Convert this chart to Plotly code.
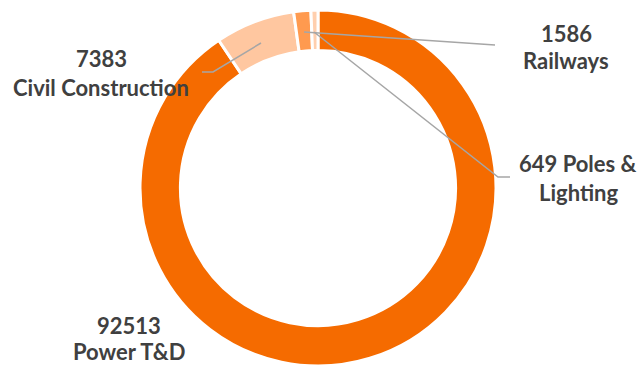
import plotly.graph_objects as go

# Data
categories = ["Power T&D", "Civil Construction", "Railways", "Poles & Lighting"]
values = [92513, 7383, 1586, 649]
colors = ["#F56B00", "#FFC7A0", "#FF9A4F", "#FFCFAE"]

W, H = 639, 366
MT, MB = 10, 0
PH = H - MT - MB


def px(x):
    return x / W


def py(y):
    return (H - MB - y) / PH


cx, R = 318, 178

fig = go.Figure(
    go.Pie(
        labels=categories,
        values=values,
        hole=0.773,
        sort=False,
        direction="clockwise",
        rotation=0,
        marker=dict(colors=colors, line=dict(color="white", width=3)),
        textinfo="none",
        hoverinfo="label+value",
        showlegend=False,
        domain=dict(x=[px(cx - R), px(cx + R)], y=[0, 1]),
    )
)

# label positions (pixel centres of the two text lines)
label_pos = {
    "Power T&D": (129, 325, 351),
    "Civil Construction": (101, 58, 87),
    "Railways": (566, 33, 61),
    "Poles & Lighting": (578, 164, 192),
}
label_lines = {
    "Power T&D": (str(values[0]), "Power T&D"),
    "Civil Construction": (str(values[1]), "Civil Construction"),
    "Railways": (str(values[2]), "Railways"),
    "Poles & Lighting": (f"{values[3]} Poles &", "Lighting"),
}

font = dict(family="Lato, 'Open Sans', sans-serif", size=22, color="#404040")
annotations = []
for cat in categories:
    x, y1, y2 = label_pos[cat]
    l1, l2 = label_lines[cat]
    for txt, yy in ((l1, y1), (l2, y2)):
        annotations.append(
            dict(
                x=px(x), y=py(yy), xref="paper", yref="paper",
                text=f"<b>{txt}</b>", showarrow=False, font=font,
                xanchor="center", yanchor="middle", borderpad=0,
            )
        )

leaders = [
    [(261, 43), (213, 72), (202, 72)],
    [(304, 32), (495, 45)],
    [(314, 32), (498, 177), (510, 177)],
]
shapes = []
for pts in leaders:
    path = "M " + " L ".join(f"{px(x):.5f},{py(y):.5f}" for x, y in pts)
    shapes.append(
        dict(type="path", path=path, xref="paper", yref="paper",
             line=dict(color="#A6A6A6", width=1.5))
    )

fig.update_layout(
    width=W, height=H,
    margin=dict(l=0, r=0, t=MT, b=MB),
    paper_bgcolor="white", plot_bgcolor="white",
    annotations=annotations,
    shapes=shapes,
)

fig.write_html("out.html")
